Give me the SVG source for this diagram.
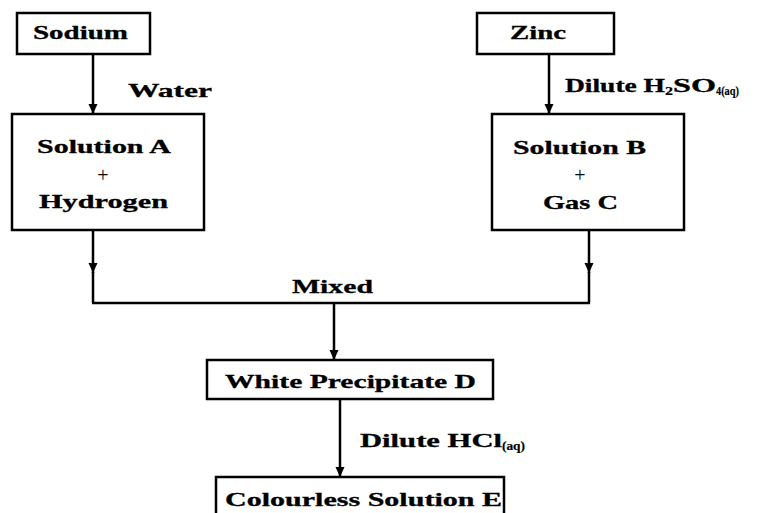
<svg xmlns="http://www.w3.org/2000/svg" width="765" height="513" viewBox="0 0 765 513">
<defs>
<style>
.box{fill:#fff;stroke:#000;stroke-width:2.5}
.ln{fill:none;stroke:#000;stroke-width:2.5}
.t{font-family:"Liberation Serif","Times New Roman",serif;font-weight:bold;font-size:19px;fill:#000;stroke:#000;stroke-width:0.3}
.s{font-family:"Liberation Serif","Times New Roman",serif;font-weight:bold;font-size:13px;fill:#000;stroke:#000;stroke-width:0.2}
.p{font-family:"Liberation Serif","Times New Roman",serif;font-weight:normal;font-size:20px;fill:#000;text-anchor:middle}
</style>
<marker id="ah" markerUnits="userSpaceOnUse" markerWidth="12" markerHeight="12" viewBox="0 0 12 12" refX="11" refY="6" orient="auto">
<path d="M1 1.5 L11 6 L1 10.5 Z" fill="#000"/>
</marker>
</defs>
<rect width="765" height="513" fill="#fff"/>
<g id="connectors">
<path class="ln" d="M93 53 V114" marker-end="url(#ah)"/>
<path class="ln" d="M549 53 V114" marker-end="url(#ah)"/>
<path class="ln" d="M93 230 V273" marker-end="url(#ah)"/>
<path class="ln" d="M93 272 V303"/>
<path class="ln" d="M589 230 V273" marker-end="url(#ah)"/>
<path class="ln" d="M589 272 V303"/>
<path class="ln" d="M92 303 H590"/>
<path class="ln" d="M334 303 V360" marker-end="url(#ah)"/>
<path class="ln" d="M340 399 V477" marker-end="url(#ah)"/>
<text class="t" x="128" y="97" textLength="84" lengthAdjust="spacingAndGlyphs">Water</text>
<text class="t" x="565" y="92" textLength="100" lengthAdjust="spacingAndGlyphs">Dilute H</text>
<text class="s" x="665" y="95" textLength="8" lengthAdjust="spacingAndGlyphs">2</text>
<text class="t" x="673" y="92" textLength="43" lengthAdjust="spacingAndGlyphs">SO</text>
<text class="s" x="716" y="95" textLength="23" lengthAdjust="spacingAndGlyphs">4(aq)</text>
<text class="t" x="292" y="293" textLength="81" lengthAdjust="spacingAndGlyphs">Mixed</text>
<text class="t" x="360" y="447" textLength="142" lengthAdjust="spacingAndGlyphs">Dilute HCl</text>
<text class="s" x="502" y="450" textLength="23" lengthAdjust="spacingAndGlyphs">(aq)</text>
</g>
<g id="sodium">
<rect class="box" x="17" y="13" width="133" height="41"/>
<text class="t" x="33" y="39" textLength="95" lengthAdjust="spacingAndGlyphs">Sodium</text>
</g>
<g id="zinc">
<rect class="box" x="477" y="13" width="137" height="41"/>
<text class="t" x="510" y="39" textLength="56" lengthAdjust="spacingAndGlyphs">Zinc</text>
</g>
<g id="solutionA">
<rect class="box" x="12" y="114" width="192" height="116"/>
<text class="t" x="37" y="153" textLength="134" lengthAdjust="spacingAndGlyphs">Solution A</text>
<text class="p" x="103" y="182">+</text>
<text class="t" x="39" y="208" textLength="129" lengthAdjust="spacingAndGlyphs">Hydrogen</text>
</g>
<g id="solutionB">
<rect class="box" x="492" y="114" width="192" height="116"/>
<text class="t" x="513" y="154" textLength="133" lengthAdjust="spacingAndGlyphs">Solution B</text>
<text class="p" x="580" y="182">+</text>
<text class="t" x="543" y="209" textLength="75" lengthAdjust="spacingAndGlyphs">Gas C</text>
</g>
<g id="precipitateD">
<rect class="box" x="207" y="360" width="286" height="39"/>
<text class="t" x="225" y="388" textLength="251" lengthAdjust="spacingAndGlyphs">White Precipitate D</text>
</g>
<g id="solutionE">
<rect class="box" x="216" y="477" width="288" height="50"/>
<text class="t" x="225" y="506" textLength="277" lengthAdjust="spacingAndGlyphs">Colourless Solution E</text>
</g>
</svg>
